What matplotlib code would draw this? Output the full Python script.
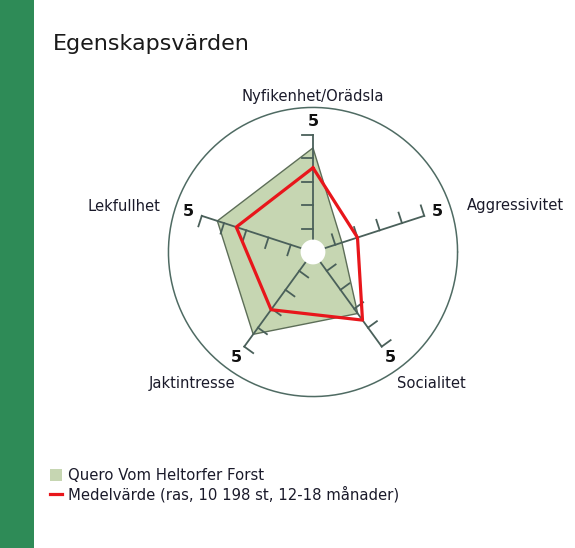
import numpy as np
import matplotlib
matplotlib.use("Agg")
import matplotlib.pyplot as plt
from matplotlib.patches import Rectangle
from matplotlib.lines import Line2D

# ---- data ----
categories = ["Nyfikenhet/Orädsla", "Aggressivitet", "Socialitet", "Jaktintresse", "Lekfullhet"]
dog_values = [4.45, 1.3, 3.25, 4.35, 4.3]
mean_values = [3.6, 2.0, 3.6, 3.05, 3.45]
dog_label = "Quero Vom Heltorfer Forst"
mean_label = "Medelvärde (ras, 10 198 st, 12-18 månader)"
title = "Egenskapsvärden"
scale_max = 5
tick_values = [1, 2, 3, 4, 5]

W, H = 575, 548
fig = plt.figure(figsize=(W / 100, H / 100), dpi=100)
fig.patch.set_facecolor("white")

# green strip on the left
fig.patches.append(Rectangle((0, 0), 34 / W, 1, transform=fig.transFigure,
                             facecolor="#2e8b57", edgecolor="none", zorder=0))

fig.text(53 / W, 1 - 44 / H, title, fontsize=16, color="#1a1a1a",
         ha="left", va="center", family="DejaVu Sans")

cx, cy, R = 313, 252, 145
ax = fig.add_axes([(cx - R) / W, 1 - (cy + R) / H, 2 * R / W, 2 * R / H], projection="polar")
rmax = 6.2
ax.set_ylim(0, rmax)
ax.set_theta_zero_location("E")
ax.set_theta_direction(1)
ax.axis("off")

th = np.linspace(0, 2 * np.pi, 400)
ax.plot(th, np.full_like(th, rmax * 0.997), color="#4f6b63", linewidth=1.1, clip_on=False,
        zorder=1, solid_joinstyle="round", solid_capstyle="round")

n = len(categories)
angles = np.deg2rad(90 - 72 * np.arange(n))

axis_col = "#4a605a"
ang_c = np.append(angles, angles[0])
ax.fill(ang_c, dog_values + dog_values[:1], facecolor="#c6d6b2", edgecolor="#5d6e58",
        linewidth=1.0, zorder=2)

# axes with ticks on the counterclockwise side
px_per_unit = R / rmax
tick_len_px = 11
for a in angles:
    ax.plot([a, a], [0.5, scale_max], color=axis_col, linewidth=1.3, zorder=3)
    ux, uy = np.cos(a), np.sin(a)
    px_, py_ = -np.sin(a), np.cos(a)
    for tv in tick_values:
        x0, y0 = tv * ux, tv * uy
        L = tick_len_px / px_per_unit
        x1, y1 = x0 + L * px_, y0 + L * py_
        ax.plot([a, np.arctan2(y1, x1)], [tv, np.hypot(x1, y1)], color=axis_col,
                linewidth=1.3, zorder=3)
    ax.text(a, 5.6, str(scale_max), fontsize=11.5, fontweight="bold",
            ha="center", va="center", color="#111111", zorder=5)

ax.plot(ang_c, mean_values + mean_values[:1], color="#e8161b", linewidth=2.3, zorder=4)

# central white hole
ax.fill(th, np.full_like(th, 0.53), facecolor="white", edgecolor="none", zorder=6)

# category labels, anchored on the outer circle with pixel offsets
label_pos = [
    ((0, 10), "center", "center"),
    ((16, 2), "left", "center"),
    ((-1, -14), "left", "center"),
    ((8, -14), "right", "center"),
    ((-15, 1), "right", "center"),
]
for a, lab, (off, ha, va) in zip(angles, categories, label_pos):
    ax.annotate(lab, xy=(a, rmax), xytext=off, textcoords="offset pixels",
                fontsize=10.6, ha=ha, va=va, color="#1a1a2a", annotation_clip=False)

# legend
fig.patches.append(Rectangle((50 / W, 1 - 481 / H), 12 / W, 12 / H, transform=fig.transFigure,
                             facecolor="#c6d6b2", edgecolor="none"))
fig.text(68 / W, 1 - 475 / H, dog_label, fontsize=10.7, ha="left", va="center", color="#1a1a2a")
fig.lines.append(Line2D([50 / W, 62 / W], [1 - 494 / H, 1 - 494 / H], transform=fig.transFigure,
                        color="#e8161b", linewidth=2.3))
fig.text(68 / W, 1 - 494 / H, mean_label, fontsize=10.7, ha="left", va="center", color="#1a1a2a")

fig.savefig("out.png", dpi=100)
